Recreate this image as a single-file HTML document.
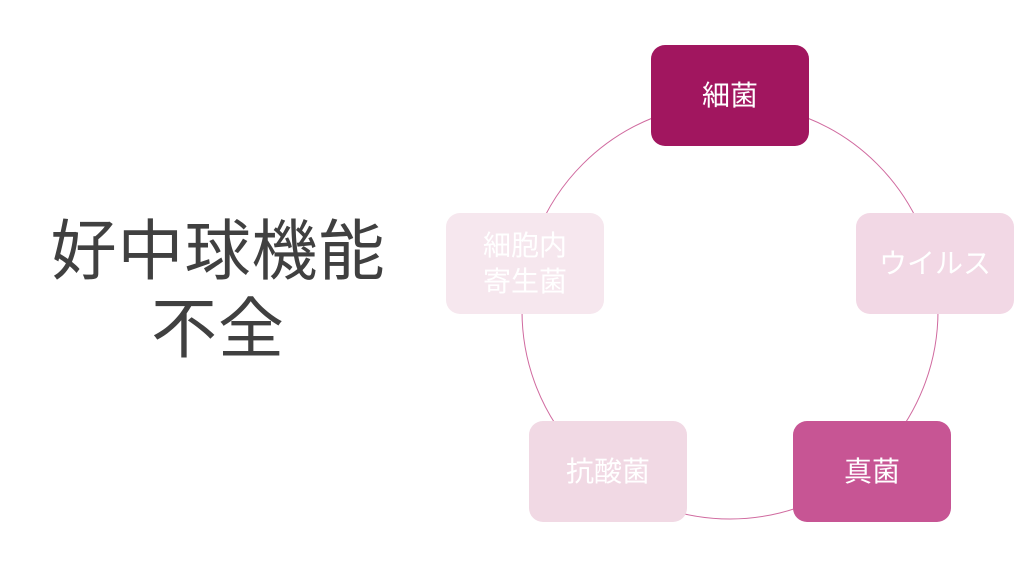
<!DOCTYPE html>
<html><head><meta charset="utf-8"><style>
html,body{margin:0;padding:0;background:#fff;width:1024px;height:575px;overflow:hidden;position:relative;font-family:"Liberation Sans","Noto Sans CJK JP",sans-serif}
.t{position:absolute;left:0;width:436px;text-align:center;color:#404040;font-size:66px;line-height:78px;letter-spacing:1px}
.b{position:absolute;width:158px;height:101px;border-radius:14px;color:#fff;display:flex;align-items:center;justify-content:center;text-align:center;font-size:28px;line-height:36px}
svg{position:absolute;left:0;top:0}
</style></head><body>
<svg width="1024" height="575"><circle cx="730" cy="311" r="208" fill="none" stroke="#d06a9f" stroke-width="1"/></svg>
<div class="t" style="top:212px">好中球機能<br>不全</div>
<div class="b" style="left:651px;top:45px;background:#a1165f">細菌</div>
<div class="b" style="left:856px;top:213px;background:#f2d8e5">ウイルス</div>
<div class="b" style="left:793px;top:421px;background:#c75594">真菌</div>
<div class="b" style="left:529px;top:421px;background:#f1d9e4">抗酸菌</div>
<div class="b" style="left:446px;top:213px;background:#f6e7ee">細胞内<br>寄生菌</div>
</body></html>
